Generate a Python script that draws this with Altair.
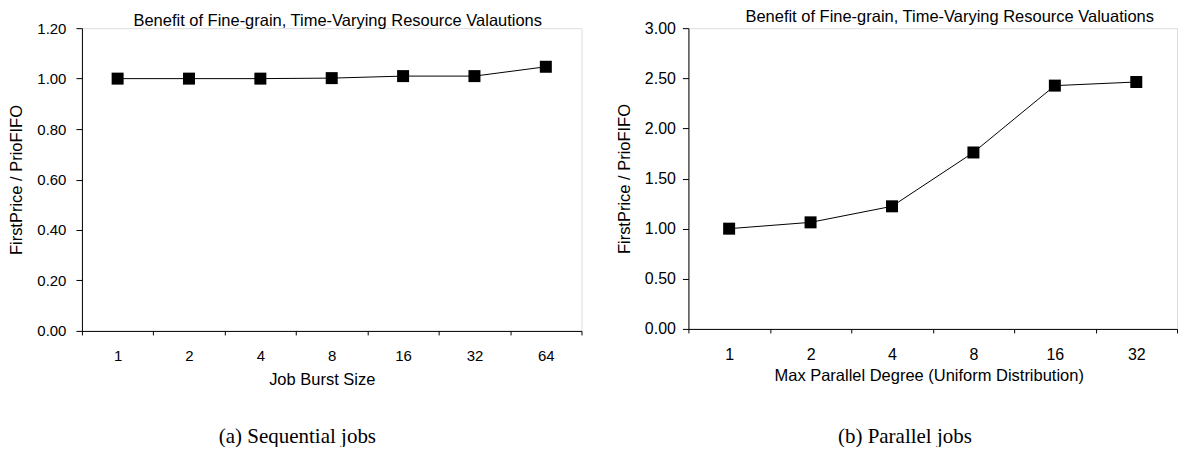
import altair as alt
import pandas as pd

# ---- data ----
burst_sizes = ["1", "2", "4", "8", "16", "32", "64"]
seq_ratio = [1.00, 1.00, 1.00, 1.002, 1.01, 1.01, 1.047]

parallel_degrees = ["1", "2", "4", "8", "16", "32"]
par_ratio = [1.00, 1.063, 1.223, 1.76, 2.427, 2.463]

seq_yticks = [0.0, 0.2, 0.4, 0.6, 0.8, 1.0, 1.2]
par_yticks = [0.0, 0.5, 1.0, 1.5, 2.0, 2.5, 3.0]

title_a = "Benefit of Fine-grain, Time-Varying Resource Valautions"
title_b = "Benefit of Fine-grain, Time-Varying Resource Valuations"
xtitle_a = "Job Burst Size"
xtitle_b = "Max Parallel Degree (Uniform Distribution)"
ytitle = "FirstPrice / PrioFIFO"
caption_a = "(a) Sequential jobs"
caption_b = "(b) Parallel jobs"

SANS = "Liberation Sans"
SERIF = "Liberation Serif"


def panel(cats, vals, yticks, xtitle, title, caption, width, height,
          label_size, title_dx, title_offset, y_label_pad, x_title_pad,
          caption_offset, x_title_shift, caption_dx):
    df = pd.DataFrame({"cat": cats, "val": vals})
    x = alt.X(
        "cat:O", sort=cats, bandPosition=0.5,
        scale=alt.Scale(type="band", paddingInner=0, paddingOuter=0),
        axis=alt.Axis(
            title=xtitle, labelAngle=0, tickBand="extent", tickSize=4,
            labelPadding=14, titlePadding=x_title_pad, domainColor="black",
            tickColor="black", labelColor="black", titleColor="black",
            labelFont=SANS, titleFont=SANS, labelFontSize=label_size,
            titleFontSize=16.5, titleFontWeight="normal", grid=False,
            titleX=width / 2 + x_title_shift,
        ),
    )
    y = alt.Y(
        "val:Q",
        scale=alt.Scale(domain=[yticks[0], yticks[-1]], nice=False),
        axis=alt.Axis(
            title=ytitle, values=yticks, format=".2f", grid=False,
            tickSize=6, labelPadding=y_label_pad, titlePadding=12,
            domainColor="black", tickColor="black", labelColor="black",
            titleColor="black", labelFont=SANS, titleFont=SANS,
            labelFontSize=label_size, titleFontSize=16.5,
            titleFontWeight="normal",
        ),
    )
    base = alt.Chart(df)
    line = base.mark_line(color="black", strokeWidth=1).encode(x=x, y=y)
    pts = base.mark_square(color="black", size=144, opacity=1).encode(x=x, y=y)
    layer = alt.layer(line, pts).properties(
        width=width, height=height,
        title=alt.Title(title, font=SANS, fontSize=16.5, fontWeight="normal",
                        color="black", anchor="middle", dx=title_dx,
                        offset=title_offset),
    )
    return alt.vconcat(
        layer,
        title=alt.Title(caption, orient="bottom", anchor="middle", font=SERIF,
                        fontSize=21, fontWeight="normal", color="black",
                        offset=caption_offset, dx=caption_dx),
    )


left = panel(burst_sizes, seq_ratio, seq_yticks, xtitle_a, title_a, caption_a,
             500, 303, 15, 6, -8, 10, 8, 37, -10, 2)
right = panel(parallel_degrees, par_ratio, par_yticks, xtitle_b, title_b, caption_b,
              489, 301, 16, 17, -5, 7, 5, 41, -4, 8)

chart = alt.hconcat(left, right, spacing=33, padding=0).configure_view(
    stroke="#a0a0a0", strokeWidth=1
).configure(font=SANS)

chart.save("out.html", embed_options={"renderer": "svg", "actions": False})
